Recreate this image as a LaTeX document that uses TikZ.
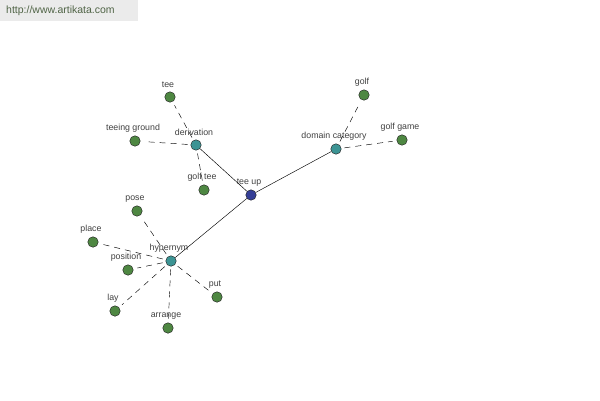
\documentclass[tikz,border=0pt]{standalone}
\usepackage{fontspec}
\setmainfont{Liberation Sans}
\definecolor{leafc}{RGB}{78,135,66}
\definecolor{hubc}{RGB}{60,148,148}
\definecolor{rootc}{RGB}{52,62,150}
\definecolor{urlc}{RGB}{80,100,70}
\begin{document}
\begin{tikzpicture}[x=1pt,y=-1pt,
  lbl/.style={font=\fontsize{8.8}{9}\selectfont, text=black!75},
  dot/.style={circle, draw=black!85, line width=0.45pt, minimum size=10.5pt, inner sep=0pt, label={[lbl,label distance=0pt,xshift=-2pt]above:#1}},
  leaf/.style={dot=#1, fill=leafc},
  hub/.style={dot=#1, fill=hubc},
  root/.style={dot=#1, fill=rootc},
  rel/.style={black, line width=0.45pt},
  drel/.style={black, line width=0.45pt, dash pattern=on 6pt off 5pt, shorten <=3pt, shorten >=4pt}]
\useasboundingbox (0,0) rectangle (600,400);
\fill[black!8] (0,0) rectangle (138,21);
\node[font=\fontsize{10.5}{11}\selectfont, text=urlc, anchor=west, inner sep=0pt] (url) at (6,11) {http://www.artikata.com};
\node[root=tee up] (teeup) at (251,195) {};
\node[hub=derivation] (der) at (196,145) {};
\node[hub=domain category] (dom) at (336,149) {};
\node[hub=hypernym] (hyp) at (171,261) {};
\node[leaf=tee] (tee) at (170,97) {};
\node[leaf=teeing ground] (tg) at (135,141) {};
\node[leaf=golf tee] (gt) at (204,190) {};
\node[leaf=golf] (golf) at (364,95) {};
\node[leaf=golf game] (gg) at (402,140) {};
\node[leaf=pose] (pose) at (137,211) {};
\node[leaf=place] (place) at (93,242) {};
\node[leaf=position] (pos) at (128,270) {};
\node[leaf=lay] (lay) at (115,311) {};
\node[leaf=arrange] (arr) at (168,328) {};
\node[leaf=put] (put) at (217,297) {};
\draw[rel] (teeup) -- (der);
\draw[rel] (teeup) -- (dom);
\draw[rel] (teeup) -- (hyp);
\draw[drel] (der) -- (tee);
\draw[drel] (der) -- (tg);
\draw[drel] (der) -- (gt);
\draw[drel] (dom) -- (golf);
\draw[drel] (dom) -- (gg);
\draw[drel] (hyp) -- (pose);
\draw[drel] (hyp) -- (place);
\draw[drel] (hyp) -- (pos);
\draw[drel] (hyp) -- (lay);
\draw[drel] (hyp) -- (arr);
\draw[drel] (hyp) -- (put);
\end{tikzpicture}
\end{document}
